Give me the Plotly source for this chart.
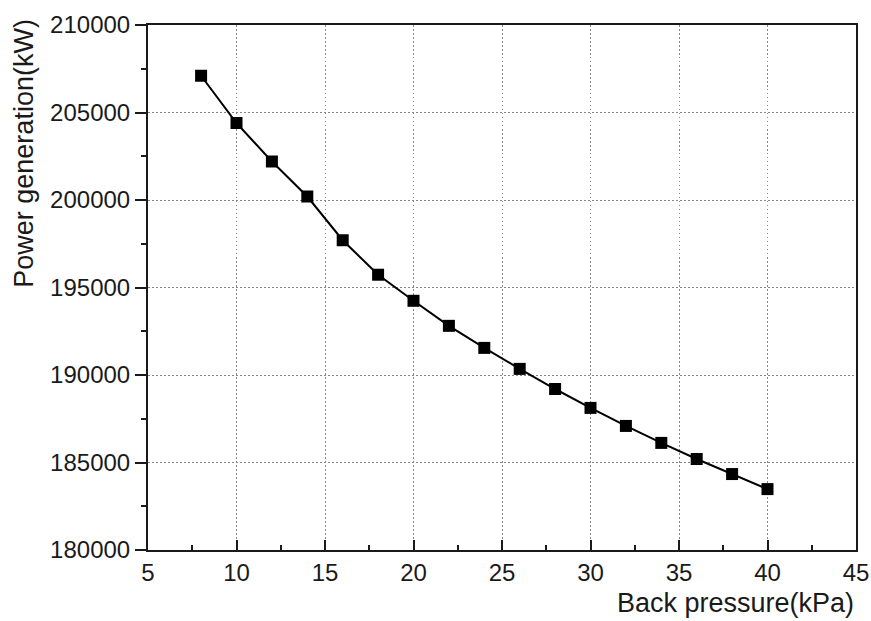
import plotly.graph_objects as go

back_pressure = [8, 10, 12, 14, 16, 18, 20, 22, 24, 26, 28, 30, 32, 34, 36, 38, 40]
power_kw = [207100, 204400, 202200, 200200, 197700, 195730, 194240, 192810, 191550,
            190350, 189200, 188120, 187090, 186120, 185200, 184340, 183480]

x_ticks = [5, 10, 15, 20, 25, 30, 35, 40, 45]
y_ticks = [180000, 185000, 190000, 195000, 200000, 205000, 210000]
y_labels = [str(v) for v in y_ticks]

fig = go.Figure()
fig.add_trace(go.Scatter(
    x=back_pressure, y=power_kw, mode="lines+markers",
    line=dict(color="black", width=2),
    marker=dict(symbol="square", size=12, color="black"),
    showlegend=False,
))

font = "Liberation Sans, Arial, sans-serif"
axis_common = dict(
    showline=True, linecolor="#1a1a1a", linewidth=2, mirror=True,
    showgrid=True, gridcolor="#888888", gridwidth=1, griddash="1.5px,2.5px",
    zeroline=False, tickcolor="#1a1a1a", tickwidth=2, automargin=False,
    tickfont=dict(family=font, size=24, color="#1a1a1a"),
)

fig.update_xaxes(
    range=[5, 45], tickvals=x_ticks, ticks="inside", ticklen=10,
    minor=dict(dtick=2.5, tick0=5, ticks="inside", ticklen=5, tickwidth=2,
               tickcolor="#1a1a1a", showgrid=False),
    **axis_common,
)
fig.update_yaxes(
    range=[180000, 210000], tickvals=y_ticks, ticktext=y_labels,
    ticks="outside", ticklen=11,
    minor=dict(dtick=2500, tick0=180000, ticks="outside", ticklen=5, tickwidth=2,
               tickcolor="#1a1a1a", showgrid=False),
    **axis_common,
)

fig.add_annotation(text="Back pressure(kPa)", xref="paper", yref="paper",
                   x=1.0, y=-0.10, xanchor="right", yanchor="middle",
                   showarrow=False, font=dict(family=font, size=27, color="#1a1a1a"))
fig.add_annotation(text="Power generation(kW)", xref="paper", yref="paper",
                   x=-0.175, y=0.755, xanchor="center", yanchor="middle", textangle=-90,
                   showarrow=False, font=dict(family=font, size=27, color="#1a1a1a"))

fig.update_layout(
    width=871, height=621,
    margin=dict(l=148, r=15, t=25, b=71),
    paper_bgcolor="white", plot_bgcolor="white",
)

fig.write_html("out.html")
